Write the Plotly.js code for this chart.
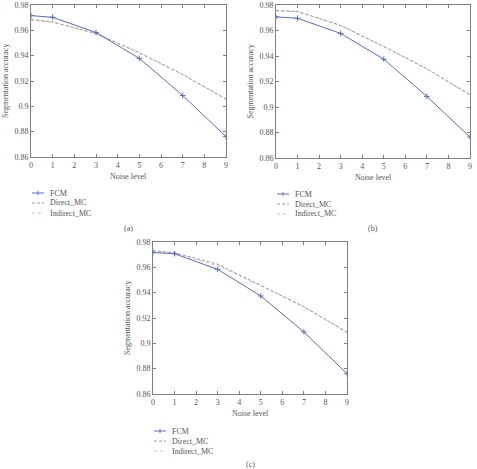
<!DOCTYPE html>
<html>
<head>
<meta charset="utf-8">
<script src="https://cdn.plot.ly/plotly-3.0.1.min.js"></script>
<style>
  html, body { margin: 0; padding: 0; background: #fff; }
  #chart { width: 477px; height: 469px; }
</style>
</head>
<body>
<div id="chart"></div>
<script>
// Noise levels at which the accuracy was measured
const noiseLevels = [0, 1, 3, 5, 7, 9];

// Segmentation accuracy, panel (a)
const fcmA      = [0.9716, 0.9703, 0.9583, 0.9379, 0.9086, 0.8761];
const directA   = [0.9685, 0.9667, 0.9575, 0.9424, 0.9252, 0.9058];
const indirectA = [0.9681, 0.9664, 0.9572, 0.9421, 0.9249, 0.9055];

// Segmentation accuracy, panel (b)
const fcmB      = [0.9707, 0.9696, 0.9577, 0.9375, 0.9083, 0.8764];
const directB   = [0.9756, 0.9750, 0.9640, 0.9475, 0.9300, 0.9096];
const indirectB = [0.9754, 0.9748, 0.9638, 0.9473, 0.9298, 0.9094];

// Segmentation accuracy, panel (c)
const fcmC      = [0.9717, 0.9707, 0.9584, 0.9374, 0.9090, 0.8760];
const directC   = [0.9731, 0.9715, 0.9624, 0.9460, 0.9290, 0.9089];
const indirectC = [0.9722, 0.9710, 0.9612, 0.9455, 0.9285, 0.9085];

const seriesNames = ['FCM', 'Direct_MC', 'Indirect_MC'];
const panelLabels = ['(a)', '(b)', '(c)'];
const xTicks = [0, 1, 2, 3, 4, 5, 6, 7, 8, 9];
const yTicks = [0.86, 0.88, 0.9, 0.92, 0.94, 0.96, 0.98];

const W = 477, H = 469;
const px = v => v / W;
const py = v => 1 - v / H;

const FONT = 'Liberation Serif, Times New Roman, serif';
const TXT = '#555';
const AX = '#808080';

const colFCM = '#5a6ec0';
const colDirect = '#8aa393';
const colIndirect = '#ebb8a2';

const panels = [
  { fcm: fcmA, dir: directA, ind: indirectA, box: [31, 226, 5, 157],   leg: [32, 193], cap: [128, 228] },
  { fcm: fcmB, dir: directB, ind: indirectB, box: [276, 470, 5, 158],  leg: [277, 194], cap: [373, 228] },
  { fcm: fcmC, dir: directC, ind: indirectC, box: [153, 347, 242, 394], leg: [154, 431], cap: [250, 464] }
];

const traces = [];
const layout = {
  width: W, height: H,
  margin: { l: 0, r: 0, t: 0, b: 0 },
  paper_bgcolor: '#fff', plot_bgcolor: '#fff',
  showlegend: false,
  font: { family: FONT, size: 8, color: TXT },
  shapes: [], annotations: []
};

panels.forEach((p, i) => {
  const n = i === 0 ? '' : String(i + 1);
  const xa = 'x' + n, ya = 'y' + n;
  const [x0, x1, y0, y1] = p.box;

  traces.push({
    x: noiseLevels, y: p.ind, xaxis: xa, yaxis: ya, name: seriesNames[2],
    mode: 'lines', line: { color: colIndirect, width: 1, dash: 'dot' }
  });
  traces.push({
    x: noiseLevels, y: p.dir, xaxis: xa, yaxis: ya, name: seriesNames[1],
    mode: 'lines', line: { color: colDirect, width: 1, dash: '3px,2px' }
  });
  traces.push({
    x: noiseLevels, y: p.fcm, xaxis: xa, yaxis: ya, name: seriesNames[0],
    mode: 'lines+markers', line: { color: colFCM, width: 1 },
    marker: { symbol: 'cross-thin-open', size: 4, color: colFCM, line: { color: colFCM, width: 1 } }
  });

  const common = {
    showline: true, linecolor: AX, linewidth: 1, mirror: 'allticks',
    ticks: 'inside', ticklen: 3, tickcolor: AX, tickwidth: 1,
    showgrid: false, zeroline: false, fixedrange: true,
    tickfont: { family: FONT, size: 8, color: TXT }
  };
  layout['xaxis' + n] = Object.assign({}, common, {
    domain: [px(x0), px(x1)], anchor: ya, range: [0, 9],
    tickmode: 'array', tickvals: xTicks, ticktext: xTicks.map(String)
  });
  layout['yaxis' + n] = Object.assign({}, common, {
    domain: [py(y1), py(y0)], anchor: xa, range: [0.86, 0.98],
    tickmode: 'array', tickvals: yTicks, ticktext: yTicks.map(String)
  });

  // Axis titles
  layout.annotations.push({
    xref: 'paper', yref: 'paper', x: px((x0 + x1) / 2), y: py(y1 + 19),
    text: 'Noise level', showarrow: false, xanchor: 'center', yanchor: 'middle',
    font: { family: FONT, size: 8, color: TXT }
  });
  layout.annotations.push({
    xref: 'paper', yref: 'paper', x: px(x0 - 26), y: py((y0 + y1) / 2),
    text: 'Segmentation accuracy', showarrow: false, textangle: -90,
    xanchor: 'center', yanchor: 'middle',
    font: { family: FONT, size: 8, color: TXT }
  });

  // Legend below each panel
  const [lx, ly] = p.leg;
  const styles = [
    { color: colFCM, dash: 'solid' },
    { color: colDirect, dash: '3px,2px' },
    { color: colIndirect, dash: 'dot' }
  ];
  styles.forEach((s, k) => {
    const yy = ly + k * 10;
    layout.shapes.push({
      type: 'line', xref: 'paper', yref: 'paper',
      x0: px(lx), x1: px(lx + 12), y0: py(yy), y1: py(yy),
      line: { color: s.color, width: 1, dash: s.dash }
    });
    if (k === 0) {
      layout.shapes.push({
        type: 'line', xref: 'paper', yref: 'paper',
        x0: px(lx + 6), x1: px(lx + 6), y0: py(yy - 2), y1: py(yy + 2),
        line: { color: s.color, width: 1 }
      });
    }
    layout.annotations.push({
      xref: 'paper', yref: 'paper', x: px(lx + 16), y: py(yy),
      text: seriesNames[k], showarrow: false, xanchor: 'left', yanchor: 'middle',
      font: { family: FONT, size: 8, color: TXT }
    });
  });

  // Panel caption
  layout.annotations.push({
    xref: 'paper', yref: 'paper', x: px(p.cap[0]), y: py(p.cap[1]),
    text: panelLabels[i], showarrow: false, xanchor: 'center', yanchor: 'middle',
    font: { family: FONT, size: 8, color: TXT }
  });
});

Plotly.newPlot('chart', traces, layout, { displayModeBar: false, staticPlot: true });
</script>
</body>
</html>
